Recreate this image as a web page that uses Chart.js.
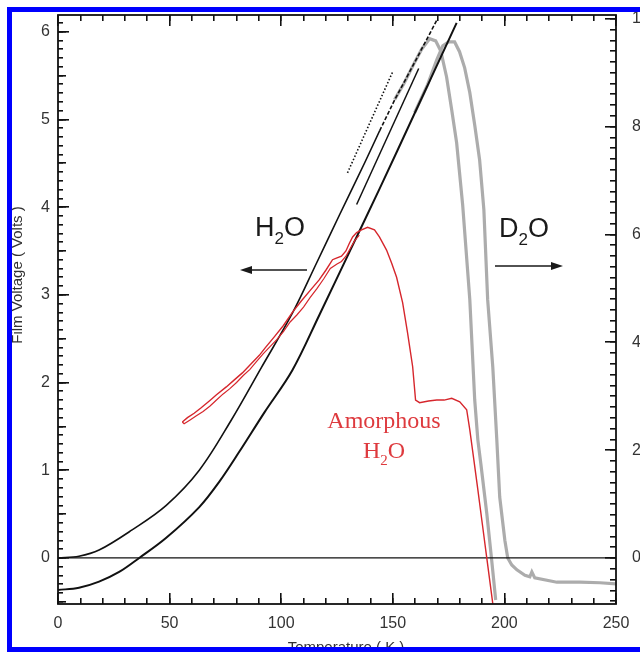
<!DOCTYPE html>
<html>
<head>
<meta charset="utf-8">
<script src="https://cdn.jsdelivr.net/npm/chart.js@4.4.1/dist/chart.umd.min.js"></script>
<style>
  body { margin: 0; background: #fff; }
  #wrap { width: 640px; height: 652px; }
</style>
</head>
<body>
<div id="wrap"><canvas id="chart" width="640" height="652"></canvas></div>
<script>
// tick labels
const tempTicks = [0, 50, 100, 150, 200, 250]
const voltTicks = [0, 1, 2, 3, 4, 5, 6]
const d2oTicks = [0, 2, 4, 6, 8, 10]

// H2O film voltage, left axis (Volts) vs temperature (K)
const upperT = [0, 9.4, 18.4, 33.2, 48.5, 63.3, 77.6, 91.1, 105.0, 115.8, 126.1, 137.3, 144.1]
const upperV = [0, 0.02, 0.09, 0.32, 0.60, 1.00, 1.57, 2.17, 2.79, 3.36, 3.91, 4.50, 4.87]
const upperExtT = [144.1, 150.8, 160.0, 169.7]
const upperExtV = [4.87, 5.22, 5.66, 6.13]

const lowerT = [0, 9.4, 18.4, 27.4, 36.4, 48.5, 63.3, 72.3, 81.2, 92.5, 105.0, 117.1, 130.6, 144.1, 159.8, 178.6]
const lowerV = [-0.365, -0.34, -0.27, -0.16, 0.0, 0.23, 0.58, 0.87, 1.21, 1.66, 2.14, 2.77, 3.49, 4.21, 5.07, 6.10]

// straight fits near the top
const dottedT = [129.7, 149.9]
const dottedV = [4.39, 5.54]
const tangentT = [133.8, 161.6]
const tangentV = [4.03, 5.58]

// amorphous H2O (red)
const amorT = [55.7, 58, 61, 64, 67.8, 71, 75.4, 79, 82.6, 86, 90.2, 93, 96.9, 101, 105, 109, 113, 117, 120, 123, 125, 127, 129, 130.6, 132, 133.8, 136, 138.7, 141.8, 144, 147.2, 149.5, 151.7, 154.4, 156.6, 158.9, 160.2, 162, 166, 169.7, 173, 176.4, 180, 183.1, 184.5, 186.3, 188.1, 190.1, 192.1, 194.8]
const amorV = [1.55, 1.60, 1.65, 1.71, 1.79, 1.86, 1.95, 2.03, 2.11, 2.20, 2.31, 2.40, 2.52, 2.65, 2.80, 2.93, 3.05, 3.17, 3.28, 3.40, 3.42, 3.44, 3.50, 3.59, 3.66, 3.71, 3.74, 3.77, 3.74, 3.66, 3.51, 3.36, 3.20, 2.91, 2.57, 2.18, 1.80, 1.77, 1.79, 1.80, 1.80, 1.82, 1.78, 1.69, 1.46, 1.12, 0.78, 0.39, 0.0, -0.52]
const amorBackT = [135, 133, 131, 129, 127, 125, 122, 119, 116, 113, 110, 107, 104, 101, 98, 95, 92, 89, 86, 83, 80, 77, 74, 71, 68, 65, 62, 59, 56.5, 55.7]
const amorBackV = [3.68, 3.62, 3.53, 3.44, 3.38, 3.35, 3.30, 3.18, 3.07, 2.97, 2.86, 2.77, 2.69, 2.58, 2.49, 2.41, 2.33, 2.24, 2.15, 2.08, 2.00, 1.93, 1.87, 1.80, 1.73, 1.67, 1.62, 1.57, 1.53, 1.55]

// D2O traces (gray), right axis
const d2oAT = [150.8, 155, 160, 163, 166.5, 169.2, 171.5, 174.1, 176.4, 178.6, 181.3, 184.5, 186.7, 188.1, 189.4, 192.1, 194.3, 196.1]
const d2oAV = [8.50, 8.80, 9.21, 9.44, 9.63, 9.59, 9.40, 8.92, 8.31, 7.70, 6.55, 4.79, 2.93, 2.19, 1.76, 0.83, -0.04, -0.78]
const d2oBT = [159.8, 165.6, 169.7, 172.4, 175.0, 177.7, 179.9, 182.2, 184.5, 186.7, 188.9, 190.8, 192.5, 194.8, 196.6, 197.9, 200.2, 201.5, 203.3, 205.6, 209.2, 211.4, 212.3, 213.6, 223.5, 233.8, 242.8, 250]
const d2oBV = [8.26, 8.78, 9.24, 9.50, 9.57, 9.57, 9.39, 9.09, 8.63, 8.03, 7.38, 6.46, 4.79, 3.54, 2.19, 1.13, 0.33, 0.0, -0.13, -0.22, -0.32, -0.35, -0.26, -0.37, -0.45, -0.45, -0.46, -0.48]

function pts(xs, ys) {
    return xs.map((v, i) => ({x: v, y: ys[i]}))
}

function steps(from, to, div) {
    const out = []
    for (let k = from; k <= to; k++) out.push({value: k / div})
    return out
}

const tickFont = {family: 'Liberation Sans, Arial, sans-serif', size: 16}
const redLine = 'rgb(214, 38, 44)'
const grayLine = 'rgb(172, 172, 172)'

// inward tick marks: negative tick length, no lines across the plot
function inward(len) {
    return {display: true, drawOnChartArea: false, drawTicks: true, tickLength: -len, color: '#111', lineWidth: 1.6}
}

function noPad(s) {
    s.paddingTop = 0
    s.paddingBottom = 0
    s.paddingLeft = 0
    s.paddingRight = 0
}

// extra axes that only carry tick marks
function tickAxis(position, min, max, list, len) {
    const vertical = position === 'left' || position === 'right'
    return {
        type: 'linear', position: position, min: min, max: max, weight: 0,
        grid: inward(len), border: {display: false},
        ticks: {display: false, autoSkip: false},
        afterBuildTicks: s => { s.ticks = list },
        afterFit: s => { if (vertical) s.width = 0; else s.height = 0; noPad(s) }
    }
}

function formula(ctx, first, x, y, size, fam, align) {
    // draws X2O with a lowered subscript 2
    const sub = Math.round(size * 0.62)
    ctx.font = size + 'px ' + fam
    const w1 = ctx.measureText(first).width
    const wO = ctx.measureText('O').width
    ctx.font = sub + 'px ' + fam
    const w2 = ctx.measureText('2').width
    let left = x
    if (align === 'center') left = x - (w1 + w2 + wO) / 2
    ctx.textAlign = 'left'
    ctx.font = size + 'px ' + fam
    ctx.fillText(first, left, y)
    ctx.font = sub + 'px ' + fam
    ctx.fillText('2', left + w1, y + size * 0.3)
    ctx.font = size + 'px ' + fam
    ctx.fillText('O', left + w1 + w2, y)
}

function arrow(ctx, x1, x2, y) {
    const dir = x2 > x1 ? 1 : -1
    ctx.fillRect(Math.min(x1, x2 - dir * 8), y - 0.75, Math.abs(x2 - dir * 8 - x1), 1.5)
    ctx.beginPath()
    ctx.moveTo(x2, y)
    ctx.lineTo(x2 - dir * 12, y - 4)
    ctx.lineTo(x2 - dir * 12, y + 4)
    ctx.closePath()
    ctx.fill()
}

const annotations = {
    id: 'annotations',
    afterDraw(chart) {
        const ctx = chart.ctx
        const a = chart.chartArea
        const sans = 'Liberation Sans, Arial, sans-serif'
        const serif = 'Liberation Serif, Times New Roman, serif'
        ctx.save()
        ctx.fillStyle = '#1a1a1a'
        ctx.textBaseline = 'alphabetic'
        formula(ctx, 'H', 255, 236, 27, sans, 'left')
        formula(ctx, 'D', 499, 237, 27, sans, 'left')
        arrow(ctx, 307, 240, 270)
        arrow(ctx, 495, 563, 266)

        ctx.fillStyle = 'rgb(222, 58, 62)'
        ctx.font = '24px ' + serif
        ctx.textAlign = 'center'
        ctx.fillText('Amorphous', 384, 428)
        formula(ctx, 'H', 384, 458, 24, serif, 'center')

        // axis titles
        ctx.fillStyle = '#333'
        ctx.font = '15px ' + sans
        ctx.textAlign = 'center'
        ctx.textBaseline = 'top'
        ctx.fillText('Temperature ( K )', 346, 640)
        ctx.translate(22, 275)
        ctx.rotate(-Math.PI / 2)
        ctx.textBaseline = 'alphabetic'
        ctx.fillText('Film Voltage ( Volts )', 0, 0)
        ctx.restore()

        // plot frame
        ctx.save()
        ctx.strokeStyle = '#111'
        ctx.lineWidth = 1.8
        ctx.strokeRect(a.left, a.top, a.right - a.left, a.bottom - a.top)
        ctx.restore()

        // blue frame of the figure
        ctx.save()
        ctx.fillStyle = '#0000ff'
        ctx.fillRect(7, 7, 633, 5)
        ctx.fillRect(7, 7, 5, 645)
        ctx.fillRect(7, 647, 633, 5)
        ctx.restore()
    }
}

const axisIds = {xAxisID: 'x', yAxisID: 'y'}

var context = document.getElementById('chart').getContext('2d')
new Chart(context, {
    type: 'line',
    data: {
        datasets: [
            {...axisIds, data: pts(amorT, amorV), borderColor: redLine, borderWidth: 1.4, order: 0},
            {...axisIds, data: pts(amorBackT, amorBackV), borderColor: redLine, borderWidth: 1.2, order: 0},
            {...axisIds, data: pts(upperT, upperV), borderColor: '#111', borderWidth: 1.6, tension: 0.35, order: 1},
            {...axisIds, data: pts(upperExtT, upperExtV), borderColor: '#111', borderWidth: 1.6, borderDash: [4, 2], order: 1},
            {...axisIds, data: pts(lowerT, lowerV), borderColor: '#111', borderWidth: 2, tension: 0.35, order: 1},
            {...axisIds, data: pts(dottedT, dottedV), borderColor: '#111', borderWidth: 1.6, borderDash: [1.5, 2], order: 1},
            {...axisIds, data: pts(tangentT, tangentV), borderColor: '#111', borderWidth: 1.5, order: 1},
            {...axisIds, data: pts([0, 250], [0, 0]), borderColor: '#111', borderWidth: 1.3, order: 1},
            {xAxisID: 'x', yAxisID: 'y2', data: pts(d2oAT, d2oAV), borderColor: grayLine, borderWidth: 3.2, order: 2},
            {xAxisID: 'x', yAxisID: 'y2', data: pts(d2oBT, d2oBV), borderColor: grayLine, borderWidth: 3.2, order: 2}
        ]
    },
    options: {
        responsive: false,
        animation: false,
        layout: {padding: {top: 15}},
        plugins: {legend: {display: false}, tooltip: {enabled: false}},
        elements: {point: {radius: 0}, line: {fill: false}},
        scales: {
            x: {
                type: 'linear', position: 'bottom', min: 0, max: 250, weight: 1,
                grid: inward(6), border: {display: false},
                afterBuildTicks: s => { s.ticks = steps(0, 25, 0.1) },
                afterFit: s => { s.height = 48; noPad(s) },
                ticks: {
                    padding: 16, font: tickFont, color: '#333', maxRotation: 0, autoSkip: false,
                    callback: v => tempTicks.includes(v) ? String(v) : ''
                }
            },
            y: {
                type: 'linear', position: 'left', min: -0.525, max: 6.19, weight: 1,
                grid: inward(5), border: {display: false},
                afterBuildTicks: s => { s.ticks = steps(-5, 61, 10) },
                afterFit: s => { s.width = 58; noPad(s) },
                ticks: {
                    padding: 13, font: tickFont, color: '#333', autoSkip: false,
                    callback: v => voltTicks.includes(v) ? String(v) : ''
                }
            },
            y2: {
                type: 'linear', position: 'right', min: -0.854, max: 10.07, weight: 1,
                grid: inward(6), border: {display: false},
                afterBuildTicks: s => { s.ticks = steps(-4, 50, 5) },
                afterFit: s => { s.width = 24; noPad(s) },
                ticks: {
                    padding: 22, font: tickFont, color: '#333', autoSkip: false,
                    callback: v => d2oTicks.includes(v) ? String(v) : ''
                }
            },
            xMajor: tickAxis('bottom', 0, 250, tempTicks.map(v => ({value: v})), 11),
            xTop: tickAxis('top', 0, 250, steps(0, 25, 0.1), 6),
            xTopMajor: tickAxis('top', 0, 250, tempTicks.map(v => ({value: v})), 11),
            yHalf: tickAxis('left', -0.525, 6.19, steps(-1, 12, 2), 8),
            yMajor: tickAxis('left', -0.525, 6.19, voltTicks.map(v => ({value: v})), 11),
            y2Major: tickAxis('right', -0.854, 10.07, d2oTicks.map(v => ({value: v})), 11)
        }
    },
    plugins: [annotations]
})
</script>
</body>
</html>
